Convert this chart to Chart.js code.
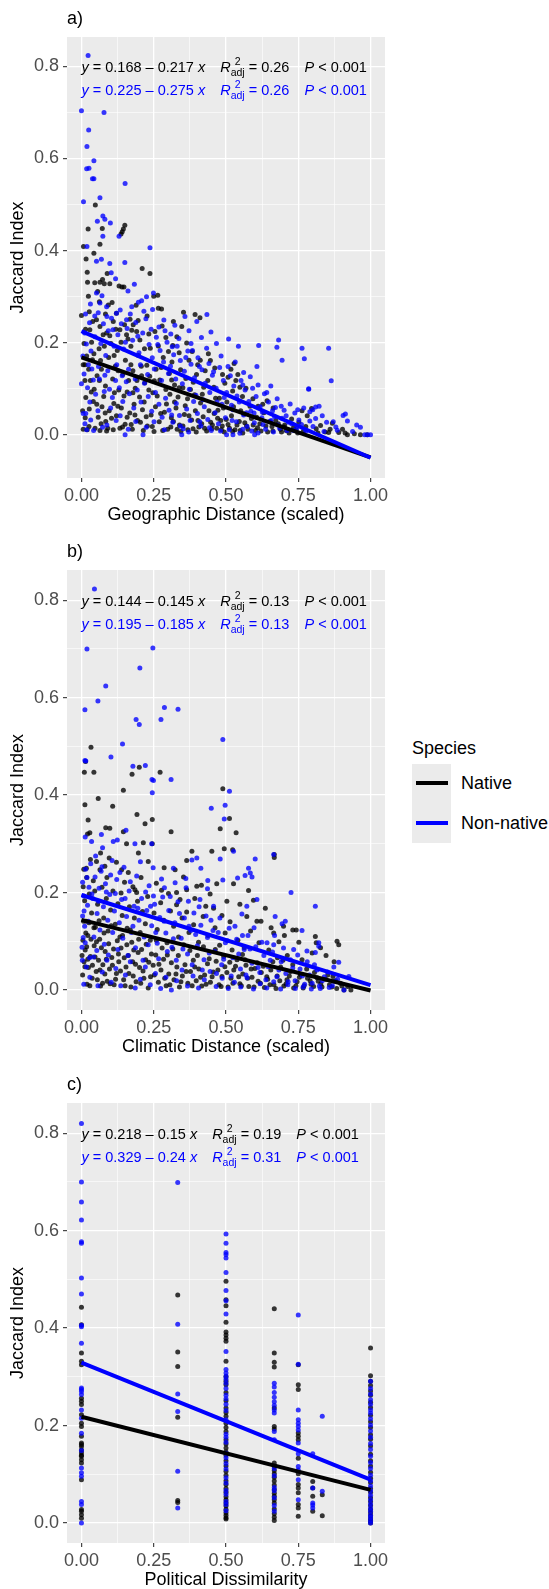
<!DOCTYPE html>
<html>
<head>
<meta charset="utf-8">
<script src="https://cdn.jsdelivr.net/npm/chart.js@4.4.0/dist/chart.umd.min.js"></script>
<style>
  body { margin: 0; background: #fff; width: 549px; height: 1589px; position: relative; overflow: hidden;
         font-family: "Liberation Sans", Arial, Helvetica, sans-serif; }
  .panel { position: absolute; left: 0; width: 400px; }
  .lg { position: absolute; font-size: 18px; line-height: 20px; color: #000; white-space: nowrap; }
</style>
</head>
<body>
<div class="panel" style="top:0;height:530px"><canvas id="chartA" width="400" height="530"></canvas></div>
<div class="panel" style="top:530px;height:532px"><canvas id="chartB" width="400" height="532"></canvas></div>
<div class="panel" style="top:1066px;height:529px"><canvas id="chartC" width="400" height="529"></canvas></div>

<div class="lg" style="left:412px;top:738px">Species</div>
<div style="position:absolute;left:412px;top:764px;width:39px;height:79px;background:#EBEBEB"></div>
<div style="position:absolute;left:416px;top:781px;width:32px;height:4px;background:#000"></div>
<div style="position:absolute;left:416px;top:821px;width:32px;height:4px;background:#0000FF"></div>
<div class="lg" style="left:461px;top:773px">Native</div>
<div class="lg" style="left:461px;top:813px">Non-native</div>

<script>
const FONT = '"Liberation Sans", Arial, Helvetica, sans-serif';

// axis breaks (majors at even index, minors in between)
const xTickVals = [0, 0.125, 0.25, 0.375, 0.5, 0.625, 0.75, 0.875, 1];
const yTickVals = [0, 0.1, 0.2, 0.3, 0.4, 0.5, 0.6, 0.7, 0.8];

// fitted lines: [native, non-native]
const geoIntercept = [0.168, 0.225];
const geoSlope = [-0.217, -0.275];
const geoR2 = ['0.26', '0.26'];
const climIntercept = [0.144, 0.195];
const climSlope = [-0.145, -0.185];
const climR2 = ['0.13', '0.13'];
const polIntercept = [0.218, 0.329];
const polSlope = [-0.15, -0.24];
const polR2 = ['0.19', '0.31'];

// a) geographic distance
const geoNative = [
[0.048,0.499],[0.023,0.447],[0.072,0.448],[0.15,0.455],[0.145,0.447],[0.141,0.441],[0.137,0.436],[0.007,0.409],[0.064,0.414],[0.043,0.394],
[0.016,0.382],[0.02,0.353],[0.021,0.331],[0.046,0.33],[0.064,0.331],[0.073,0.337],[0.079,0.328],[0.098,0.328],[0.089,0.35],[0.13,0.323],
[0.14,0.321],[0.147,0.321],[0.21,0.361],[0.237,0.35],[0.25,0.301],[0.264,0.303],[0.266,0.275],[0.277,0.273],[0.0,0.259],
[0.029,0.228],[0.052,0.25],[0.064,0.235],[0.075,0.217],[0.087,0.221],[0.11,0.246],[0.133,0.228],[0.156,0.217],[0.179,0.239],[0.191,0.224],
[0.202,0.206],[0.353,0.266],[0.318,0.246],[0.393,0.261],[0.41,0.254],[0.347,0.235],[0.33,0.213],[0.364,0.199],
[0.012,0.152],[0.018,0.171],[0.031,0.118],[0.038,0.163],[0.054,0.128],[0.061,0.187],[0.069,0.142],[0.083,0.106],[0.094,0.168],[0.102,0.198],
[0.108,0.121],[0.117,0.149],[0.124,0.183],[0.129,0.097],[0.143,0.131],[0.152,0.162],[0.163,0.118],[0.171,0.192],[0.178,0.139],[0.186,0.101],
[0.197,0.172],[0.208,0.128],[0.219,0.113],[0.226,0.151],[0.238,0.188],[0.247,0.091],[0.258,0.142],[0.271,0.119],[0.283,0.168],[0.292,0.098],
[0.304,0.133],[0.313,0.158],[0.322,0.108],[0.334,0.082],[0.343,0.141],[0.361,0.122],[0.377,0.098],[0.398,0.131],[0.418,0.088],[0.437,0.118],
[0.458,0.103],[0.477,0.079],[0.496,0.112],[0.517,0.142],[0.528,0.155],[0.541,0.131],[0.557,0.083],[0.569,0.101],[0.583,0.062],[0.461,0.145],
[0.439,0.176],[0.383,0.181],[0.292,0.211],[0.266,0.193],[0.411,0.162],[0.503,0.071],[0.472,0.053],
[0.015,0.081],[0.027,0.056],[0.041,0.072],[0.058,0.038],[0.071,0.061],[0.084,0.029],[0.096,0.052],[0.112,0.068],[0.121,0.041],[0.138,0.058],
[0.151,0.023],[0.167,0.047],[0.182,0.066],[0.194,0.031],[0.211,0.054],[0.228,0.019],[0.241,0.043],[0.256,0.061],[0.269,0.028],[0.287,0.049],
[0.298,0.012],[0.311,0.037],[0.327,0.058],[0.339,0.021],[0.356,0.044],[0.368,0.011],[0.381,0.032],[0.394,0.052],[0.406,0.017],[0.421,0.039],
[0.433,0.008],[0.447,0.027],[0.459,0.046],[0.468,0.014],[0.482,0.031],[0.494,0.006],[0.507,0.022],[0.519,0.041],[0.531,0.011],[0.546,0.029],
[0.558,0.004],[0.571,0.019],[0.588,0.035],[0.602,0.009],[0.617,0.024],[0.631,0.048],[0.644,0.006],[0.659,0.018],[0.672,0.031],[0.688,0.012],
[0.703,0.021],[0.718,0.004],[0.734,0.016],[0.752,0.027],[0.768,0.008],[0.781,0.041],[0.796,0.057],[0.812,0.013],[0.827,0.02],[0.843,0.006],
[0.855,0.005],[0.868,0.025],[0.89,0.005],[0.903,0.012],[0.92,0.0],[0.965,0.0],[0.988,0.0],
[0.006,0.012],[0.02,0.011],[0.064,0.009],[0.087,0.008],[0.11,0.011],[0.142,0.017],[0.176,0.012],[0.214,0.009],[0.251,0.007],[0.309,0.017],
[0.344,0.007],[0.397,0.006],[0.416,0.024],[0.451,0.013],[0.487,0.019],[0.523,0.007],[0.565,0.026],[0.609,0.015],[0.653,0.029],[0.692,0.006],
[0.7,0.017],[0.727,0.034],[0.742,0.011],[0.763,0.052],[0.523,0.095],[0.611,0.062],[0.642,0.074],[0.551,0.052],[0.367,0.078],[0.322,0.071],
[0.201,0.082],[0.178,0.091],[0.044,0.099],[0.062,0.118],[0.006,0.152],[0.009,0.198],[0.035,0.201],[0.098,0.215],[0.121,0.264],[0.168,0.251],
[0.189,0.281],[0.227,0.258],[0.062,0.289],[0.093,0.282],[0.024,0.301],
[0.004,0.052],[0.013,0.037],[0.026,0.018],[0.034,0.093],[0.047,0.014],[0.053,0.066],[0.068,0.024],[0.077,0.083],[0.082,0.047],[0.091,0.014],
[0.104,0.036],[0.114,0.091],[0.126,0.062],[0.133,0.014],[0.147,0.084],[0.158,0.038],[0.172,0.022],[0.185,0.043],[0.192,0.118],[0.204,0.027],
[0.217,0.071],[0.224,0.039],[0.233,0.097],[0.245,0.018],[0.262,0.084],[0.274,0.046],[0.281,0.009],[0.294,0.067],[0.306,0.088],[0.318,0.029],
[0.331,0.012],[0.338,0.102],[0.351,0.019],[0.359,0.063],[0.372,0.041],[0.386,0.013],[0.391,0.087],[0.403,0.031],[0.412,0.069],[0.426,0.014],
[0.441,0.052],[0.453,0.021],[0.464,0.079],[0.471,0.036],[0.484,0.011],[0.491,0.058],[0.501,0.033],[0.512,0.014],[0.526,0.061],[0.538,0.021],
[0.549,0.009],[0.562,0.045],[0.576,0.012],[0.594,0.021],[0.606,0.038],[0.621,0.008],[0.638,0.019],[0.662,0.008],[0.681,0.024],[0.708,0.009],
[0.748,0.004],[0.776,0.018],[0.818,0.004],[0.86,0.012],[0.912,0.004],[0.944,0.002],
[0.014,0.229],[0.027,0.267],[0.039,0.246],[0.056,0.311],[0.083,0.262],[0.106,0.287],[0.119,0.229],[0.137,0.201],[0.149,0.239],[0.161,0.208],
[0.174,0.227],[0.196,0.248],[0.218,0.187],[0.233,0.219],[0.254,0.224],[0.279,0.236],[0.301,0.181],[0.316,0.194],[0.338,0.178],[0.372,0.162],
[0.402,0.152],[0.428,0.139],[0.446,0.161],[0.488,0.131],[0.507,0.125],[0.534,0.118],[0.548,0.103],[0.593,0.078],[0.627,0.066],[0.663,0.058],
[0.012,0.118],[0.025,0.142],[0.043,0.176],[0.066,0.161],[0.079,0.192],[0.113,0.172],[0.127,0.139],[0.158,0.093],[0.171,0.152],[0.207,0.149],
[0.236,0.127],[0.252,0.117],[0.276,0.146],[0.312,0.119],[0.351,0.102],[0.387,0.114],[0.423,0.103]
];
const geoNonNative = [
[0.023,0.824],[0.0,0.704],[0.078,0.70],[0.025,0.662],[0.019,0.626],[0.043,0.595],[0.018,0.578],[0.026,0.579],[0.038,0.556],[0.043,0.556],
[0.151,0.546],[0.007,0.506],[0.064,0.515],[0.074,0.475],[0.081,0.468],[0.055,0.464],[0.1,0.46],[0.074,0.431],[0.13,0.431],[0.237,0.406],
[0.019,0.409],[0.15,0.374],[0.098,0.372],[0.052,0.377],[0.069,0.381],[0.052,0.308],[0.064,0.286],[0.087,0.278],[0.121,0.264],[0.156,0.25],
[0.249,0.308],[0.225,0.30],[0.197,0.288],[0.358,0.257],[0.399,0.246],[0.434,0.261],[0.509,0.208],[0.543,0.192],[0.613,0.194],[0.682,0.206],
[0.694,0.162],[0.676,0.19],[0.763,0.188],[0.771,0.165],[0.855,0.188],[0.864,0.117],[0.786,0.10],[0.655,0.106],[0.607,0.148],[0.561,0.135],
[0.0,0.111],[0.006,0.046],[0.015,0.046],[0.012,0.024],[0.029,0.071],
[0.786,0.099],[0.79,0.05],[0.80,0.054],[0.81,0.06],[0.79,0.03],[0.81,0.035],[0.905,0.042],[0.913,0.045],[0.92,0.03],[0.88,0.017],
[0.885,0.01],[0.965,0.016],[0.99,0.0],[1.0,0.0],[0.98,0.0],
[0.011,0.221],[0.017,0.197],[0.028,0.243],[0.033,0.182],[0.047,0.213],[0.058,0.265],[0.067,0.198],[0.076,0.241],[0.084,0.172],[0.093,0.226],
[0.104,0.253],[0.113,0.192],[0.126,0.217],[0.134,0.271],[0.146,0.186],[0.158,0.231],[0.169,0.262],[0.177,0.205],[0.188,0.244],[0.199,0.178],
[0.212,0.221],[0.223,0.252],[0.234,0.196],[0.245,0.167],[0.259,0.212],[0.272,0.183],[0.284,0.158],[0.296,0.201],[0.308,0.149],[0.319,0.174],
[0.331,0.192],[0.342,0.161],[0.356,0.138],[0.368,0.182],[0.379,0.153],[0.391,0.124],[0.403,0.167],[0.417,0.141],[0.428,0.112],[0.441,0.155],
[0.453,0.129],[0.466,0.101],[0.478,0.146],[0.491,0.118],[0.502,0.092],[0.515,0.128],[0.527,0.106],[0.538,0.084],[0.552,0.118],[0.566,0.097],
[0.579,0.072],[0.592,0.101],[0.604,0.083],[0.618,0.061],[0.633,0.089],[0.647,0.071],[0.661,0.052],[0.677,0.078],[0.691,0.062],[0.708,0.041],
[0.722,0.067],[0.738,0.047],[0.752,0.032],[0.769,0.058],[0.822,0.062],[0.833,0.041],[0.848,0.027],
[0.009,0.132],[0.021,0.102],[0.036,0.143],[0.049,0.088],[0.062,0.121],[0.079,0.094],[0.091,0.139],[0.107,0.081],[0.118,0.118],[0.131,0.102],
[0.143,0.072],[0.155,0.115],[0.166,0.089],[0.181,0.058],[0.193,0.097],[0.206,0.071],[0.218,0.112],[0.231,0.083],[0.243,0.051],[0.256,0.092],
[0.268,0.066],[0.279,0.038],[0.291,0.079],[0.303,0.053],[0.316,0.027],[0.328,0.068],[0.339,0.042],[0.352,0.013],[0.364,0.056],[0.376,0.031],
[0.388,0.072],[0.401,0.046],[0.413,0.019],[0.425,0.061],[0.437,0.033],[0.449,0.009],[0.462,0.048],[0.474,0.024],[0.486,0.066],[0.498,0.037],
[0.511,0.011],[0.524,0.054],[0.536,0.028],[0.548,0.003],[0.561,0.043],[0.573,0.018],[0.586,0.051],[0.598,0.026],[0.611,0.004],[0.624,0.037],
[0.637,0.012],[0.651,0.029],[0.664,0.006],[0.679,0.021],[0.694,0.036],[0.711,0.009],[0.727,0.024],[0.744,0.013],[0.151,0.0],[0.213,0.0],
[0.347,0.0],[0.502,0.0],[0.524,0.0],[0.599,0.0],[0.12,0.031],[0.073,0.016],[0.042,0.009],
[0.103,0.352],[0.118,0.339],[0.161,0.312],[0.183,0.327],[0.208,0.291],[0.246,0.272],[0.285,0.249],[0.323,0.238],[0.372,0.226],[0.415,0.211],
[0.448,0.223],[0.467,0.198],[0.379,0.198],[0.268,0.234],[0.309,0.219],
[0.005,0.171],[0.014,0.262],[0.024,0.152],[0.031,0.284],[0.041,0.119],[0.046,0.258],[0.059,0.148],[0.071,0.302],[0.081,0.129],[0.088,0.257],
[0.097,0.099],[0.109,0.228],[0.122,0.152],[0.138,0.241],[0.141,0.128],[0.152,0.201],[0.163,0.142],[0.174,0.278],[0.186,0.121],[0.195,0.214],
[0.204,0.152],[0.216,0.268],[0.229,0.131],[0.241,0.229],[0.252,0.143],[0.264,0.196],[0.277,0.118],[0.289,0.226],[0.301,0.133],[0.314,0.191],
[0.326,0.121],[0.337,0.209],[0.349,0.111],[0.361,0.168],[0.373,0.099],[0.384,0.183],[0.396,0.086],[0.408,0.148],[0.421,0.076],[0.433,0.188],
[0.444,0.092],[0.457,0.137],[0.469,0.071],[0.483,0.171],[0.494,0.081],[0.507,0.148],[0.519,0.064],[0.532,0.158],[0.546,0.071],[0.558,0.108],
[0.571,0.048],[0.584,0.126],[0.597,0.047],[0.611,0.108],[0.626,0.049],[0.641,0.092],[0.656,0.031],[0.671,0.059],[0.686,0.014],[0.701,0.053],
[0.716,0.027],[0.733,0.009],[0.748,0.054],[0.761,0.022],[0.776,0.008],[0.801,0.018],[0.839,0.007],[0.871,0.028],[0.938,0.007],[0.952,0.021],
[0.018,0.011],[0.032,0.032],[0.057,0.052],[0.088,0.021],[0.101,0.058],[0.134,0.041],[0.162,0.012],[0.188,0.029],[0.224,0.016],[0.251,0.028],
[0.287,0.011],[0.312,0.043],[0.342,0.019],[0.371,0.006],[0.409,0.028],[0.443,0.015],[0.481,0.008],[0.521,0.031],[0.558,0.012],[0.589,0.008],
[0.628,0.022],[0.668,0.039]
];

// b) climatic distance
const climNative = [
[0.033,0.498],[0.014,0.469],[0.010,0.447],[0.043,0.447],[0.175,0.443],[0.2,0.457],[0.272,0.447],[0.489,0.413],[0.145,0.41],[0.058,0.393],
[0.012,0.38],[0.108,0.377],[0.192,0.36],[0.023,0.349],[0.021,0.32],[0.029,0.323],[0.084,0.333],[0.098,0.332],[0.145,0.325],[0.22,0.341],
[0.245,0.35],[0.31,0.325],[0.48,0.331],[0.512,0.352],[0.535,0.323],[0.245,0.30],[0.214,0.302],[0.156,0.30],[0.382,0.285],[0.451,0.285],
[0.494,0.29],[0.523,0.288],[0.667,0.278],[0.667,0.272],[0.364,0.266],[0.324,0.247],[0.399,0.213],[0.526,0.218],[0.364,0.206],[0.008,0.248],
[0.017,0.25],[0.052,0.264],[0.064,0.247],[0.081,0.254],[0.139,0.247],[0.185,0.206],[0.191,0.2],[0.277,0.205],[0.329,0.2],[0.329,0.175],
[0.364,0.16],[0.43,0.172],[0.457,0.168],[0.486,0.153],[0.514,0.14],[0.572,0.151],[0.595,0.184],[0.607,0.141],[0.636,0.168],[0.665,0.117],
[0.699,0.131],[0.731,0.123],[0.743,0.123],[0.809,0.11],[0.812,0.097],[0.884,0.10],[0.89,0.093],[0.798,0.076],
[0.006,0.212],[0.011,0.183],[0.016,0.141],[0.022,0.112],[0.027,0.197],[0.035,0.158],[0.041,0.224],[0.048,0.129],[0.056,0.176],[0.063,0.104],
[0.071,0.211],[0.077,0.148],[0.086,0.188],[0.092,0.121],[0.101,0.164],[0.109,0.203],[0.117,0.135],[0.126,0.177],[0.133,0.109],[0.141,0.153],
[0.149,0.221],[0.158,0.127],[0.166,0.171],[0.174,0.098],[0.183,0.148],[0.194,0.182],[0.203,0.118],[0.211,0.161],[0.221,0.136],[0.229,0.192],
[0.238,0.102],[0.251,0.158],[0.262,0.124],[0.274,0.179],[0.285,0.143],[0.296,0.097],[0.308,0.162],[0.319,0.131],[0.336,0.109],[0.348,0.148],
[0.372,0.118],[0.388,0.134],[0.405,0.098],[0.421,0.151],[0.438,0.112],[0.462,0.128],[0.478,0.092],[0.497,0.117],[0.541,0.102],[0.563,0.087],
[0.585,0.121],[0.614,0.097],[0.648,0.082],[0.683,0.099],
[0.004,0.031],[0.009,0.058],[0.013,0.082],[0.019,0.012],[0.024,0.046],[0.031,0.069],[0.037,0.024],[0.044,0.091],[0.051,0.038],[0.059,0.061],
[0.066,0.008],[0.074,0.052],[0.082,0.079],[0.089,0.018],[0.097,0.043],[0.105,0.067],[0.113,0.011],[0.121,0.034],[0.129,0.058],[0.137,0.086],
[0.146,0.021],[0.154,0.047],[0.162,0.071],[0.171,0.006],[0.179,0.029],[0.187,0.053],[0.196,0.077],[0.205,0.014],[0.213,0.039],[0.222,0.062],
[0.231,0.004],[0.239,0.027],[0.248,0.051],[0.257,0.072],[0.266,0.016],[0.275,0.041],[0.284,0.063],[0.293,0.009],[0.302,0.033],[0.311,0.056],
[0.32,0.021],[0.33,0.047],[0.339,0.006],[0.349,0.029],[0.358,0.052],[0.368,0.014],[0.377,0.038],[0.387,0.061],[0.397,0.019],[0.406,0.043],
[0.416,0.008],[0.426,0.031],[0.436,0.054],[0.446,0.016],[0.456,0.037],[0.466,0.059],[0.476,0.011],[0.486,0.028],[0.496,0.048],[0.507,0.006],
[0.517,0.024],[0.527,0.041],[0.538,0.062],[0.548,0.013],[0.558,0.033],[0.569,0.051],[0.579,0.007],[0.59,0.026],[0.6,0.044],[0.611,0.018],
[0.622,0.036],[0.633,0.005],[0.644,0.022],[0.655,0.041],[0.666,0.011],[0.677,0.029],[0.689,0.047],[0.7,0.008],[0.711,0.021],[0.723,0.038],
[0.734,0.004],[0.746,0.017],[0.758,0.032],[0.77,0.009],[0.782,0.024],[0.794,0.012],[0.806,0.036],[0.819,0.018],[0.832,0.006],[0.845,0.022],
[0.858,0.011],[0.87,0.028],[0.883,0.003],[0.896,0.014],[0.908,0.0],[0.921,0.007],[0.932,0.0],[0.827,0.087],[0.763,0.062],[0.712,0.071],
[0.678,0.066],[0.557,0.073],[0.521,0.082],
[0.002,0.071],[0.005,0.102],[0.007,0.141],[0.012,0.048],[0.015,0.117],[0.018,0.089],[0.022,0.063],[0.026,0.138],[0.029,0.009],[0.033,0.104],
[0.038,0.051],[0.043,0.128],[0.047,0.068],[0.052,0.099],[0.055,0.021],[0.061,0.142],[0.064,0.041],[0.069,0.087],[0.073,0.014],[0.078,0.117],
[0.081,0.033],[0.086,0.063],[0.094,0.095],[0.099,0.013],[0.103,0.132],[0.107,0.051],[0.111,0.084],[0.118,0.022],[0.124,0.101],[0.128,0.074],
[0.135,0.039],[0.142,0.112],[0.148,0.066],[0.151,0.009],[0.157,0.093],[0.164,0.034],[0.169,0.123],[0.177,0.058],[0.181,0.082],[0.189,0.017],
[0.198,0.104],[0.201,0.046],[0.208,0.083],[0.216,0.024],[0.224,0.094],[0.233,0.057],[0.242,0.074],[0.252,0.031],[0.259,0.102],[0.268,0.053],
[0.279,0.086],[0.288,0.024],[0.297,0.072],[0.306,0.011],[0.316,0.084],[0.327,0.033],[0.335,0.071],[0.344,0.017],[0.354,0.093],[0.362,0.038],
[0.375,0.081],[0.383,0.009],[0.392,0.047],[0.401,0.071],[0.412,0.026],[0.422,0.089],[0.431,0.012],[0.442,0.064],[0.452,0.027],[0.463,0.083],
[0.472,0.041],[0.483,0.007],[0.492,0.069],[0.503,0.036],[0.513,0.057],[0.524,0.014],[0.533,0.049],[0.544,0.027],[0.553,0.009],[0.566,0.062],
[0.575,0.024],[0.587,0.043],[0.597,0.006],[0.608,0.056],[0.619,0.014],[0.629,0.049],[0.641,0.027],[0.652,0.011],[0.662,0.058],[0.673,0.003],
[0.686,0.019],[0.697,0.061],[0.708,0.013],[0.719,0.029],[0.731,0.052],[0.742,0.009],[0.754,0.026],[0.767,0.004],[0.779,0.043],[0.791,0.019],
[0.803,0.007],[0.815,0.025],[0.828,0.013],[0.852,0.031],[0.866,0.006],[0.879,0.019],[0.901,0.008],
[0.018,0.231],[0.031,0.268],[0.046,0.203],[0.066,0.281],[0.088,0.231],[0.096,0.271],[0.121,0.262],[0.137,0.199],[0.162,0.241],[0.178,0.212],
[0.197,0.281],[0.206,0.231],[0.231,0.264],[0.259,0.219],[0.286,0.251],[0.301,0.198],[0.341,0.186],[0.353,0.232],[0.392,0.188],[0.415,0.215],
[0.445,0.197],[0.468,0.218],[0.503,0.182],[0.548,0.176],[0.578,0.204],[0.621,0.141],[0.656,0.128],[0.702,0.112],[0.752,0.098],[0.846,0.071],
[0.874,0.058]
];
const climNonNative = [
[0.045,0.823],[0.019,0.70],[0.247,0.702],[0.202,0.661],[0.084,0.624],[0.057,0.593],[0.012,0.575],[0.287,0.58],[0.334,0.576],[0.189,0.555],
[0.2,0.545],[0.275,0.555],[0.489,0.514],[0.142,0.505],[0.012,0.471],[0.015,0.47],[0.102,0.478],[0.178,0.459],[0.221,0.461],[0.244,0.432],
[0.31,0.432],[0.249,0.43],[0.245,0.405],[0.512,0.408],[0.497,0.379],[0.449,0.373],[0.494,0.351],[0.154,0.328],[0.013,0.314],[0.035,0.305],
[0.069,0.319],[0.11,0.305],[0.124,0.308],[0.185,0.30],[0.243,0.30],[0.073,0.292],[0.318,0.25],[0.413,0.25],[0.382,0.267],[0.399,0.271],
[0.48,0.269],[0.526,0.285],[0.578,0.25],[0.601,0.269],[0.665,0.278],[0.437,0.225],[0.489,0.226],[0.54,0.23],[0.566,0.235],[0.584,0.24],
[0.59,0.232],[0.436,0.208],[0.249,0.193],[0.287,0.21],[0.362,0.21],[0.324,0.22],[0.37,0.182],[0.41,0.186],[0.457,0.172],[0.555,0.156],
[0.572,0.172],[0.607,0.186],[0.725,0.20],[0.809,0.172],[0.67,0.151],[0.694,0.136],[0.705,0.141],[0.763,0.122],[0.642,0.097],[0.665,0.093],
[0.734,0.083],[0.78,0.08],[0.809,0.077],[0.821,0.09],[0.821,0.097],[0.873,0.047],[0.89,0.057],[0.925,0.028],[0.908,0.0],
[0.004,0.221],[0.008,0.193],[0.014,0.248],[0.021,0.174],[0.026,0.211],[0.032,0.259],[0.039,0.188],[0.047,0.232],[0.054,0.157],[0.061,0.209],
[0.068,0.244],[0.076,0.171],[0.083,0.218],[0.091,0.143],[0.098,0.196],[0.106,0.266],[0.114,0.162],[0.122,0.227],[0.131,0.138],[0.139,0.186],
[0.147,0.252],[0.156,0.151],[0.165,0.203],[0.173,0.118],[0.182,0.172],[0.191,0.234],[0.199,0.143],[0.208,0.188],[0.217,0.109],[0.226,0.163],
[0.234,0.214],[0.243,0.132],[0.253,0.176],[0.262,0.096],[0.271,0.149],[0.281,0.191],[0.292,0.117],[0.302,0.163],[0.313,0.088],[0.323,0.138],
[0.334,0.181],[0.345,0.106],[0.356,0.148],[0.367,0.074],[0.378,0.122],[0.389,0.158],[0.401,0.091],[0.413,0.133],[0.424,0.062],[0.436,0.108],
[0.448,0.143],[0.461,0.079],[0.473,0.118],[0.485,0.052],[0.498,0.097],[0.511,0.127],[0.524,0.066],[0.537,0.104],[0.55,0.043],[0.563,0.083],
[0.576,0.112],[0.59,0.055],[0.603,0.089],[0.617,0.036],[0.631,0.071],[0.646,0.048],[0.661,0.078],[0.676,0.027],[0.691,0.058],[0.707,0.034],
[0.723,0.062],[0.739,0.019],[0.756,0.043],[0.772,0.012],[0.789,0.031],[0.806,0.052],[0.823,0.008],[0.84,0.027],[0.857,0.005],[0.875,0.018],
[0.008,0.012],[0.017,0.047],[0.029,0.026],[0.042,0.068],[0.057,0.009],[0.072,0.037],[0.088,0.061],[0.103,0.016],[0.119,0.044],[0.136,0.009],
[0.152,0.031],[0.169,0.058],[0.186,0.004],[0.204,0.022],[0.221,0.047],[0.238,0.011],[0.256,0.034],[0.274,0.003],[0.292,0.026],[0.311,0.0],
[0.329,0.019],[0.348,0.041],[0.367,0.008],[0.386,0.029],[0.405,0.004],[0.425,0.021],[0.445,0.038],[0.466,0.007],[0.487,0.024],[0.508,0.003],
[0.529,0.016],[0.551,0.006],[0.573,0.025],[0.595,0.002],[0.618,0.013],[0.641,0.004],[0.665,0.017],[0.689,0.002],[0.714,0.011],[0.74,0.003],
[0.767,0.006],[0.795,0.002],[0.826,0.003],[0.002,0.088],[0.006,0.108],[0.011,0.131],[0.004,0.152],
[0.003,0.061],[0.009,0.162],[0.013,0.097],[0.019,0.231],[0.024,0.141],[0.028,0.066],[0.036,0.197],[0.043,0.109],[0.049,0.275],[0.053,0.081],
[0.059,0.182],[0.064,0.123],[0.071,0.253],[0.079,0.094],[0.086,0.201],[0.093,0.072],[0.101,0.236],[0.108,0.118],[0.117,0.198],[0.126,0.083],
[0.133,0.241],[0.143,0.106],[0.151,0.188],[0.161,0.071],[0.169,0.222],[0.178,0.131],[0.187,0.087],[0.195,0.168],[0.204,0.263],[0.213,0.061],
[0.222,0.201],[0.231,0.093],[0.239,0.172],[0.248,0.251],[0.257,0.118],[0.267,0.064],[0.277,0.228],[0.286,0.141],[0.297,0.079],[0.307,0.192],
[0.318,0.105],[0.328,0.061],[0.339,0.157],[0.351,0.084],[0.361,0.229],[0.372,0.131],[0.383,0.052],[0.395,0.114],[0.407,0.171],[0.418,0.041],
[0.431,0.152],[0.442,0.076],[0.455,0.122],[0.467,0.034],[0.479,0.148],[0.492,0.063],[0.505,0.101],[0.518,0.029],[0.531,0.131],[0.544,0.074],
[0.557,0.112],[0.569,0.031],[0.583,0.084],[0.597,0.128],[0.611,0.046],[0.624,0.098],[0.638,0.021],[0.653,0.061],[0.668,0.112],[0.683,0.041],
[0.699,0.086],[0.715,0.017],[0.731,0.045],[0.748,0.072],[0.764,0.029],[0.781,0.058],[0.798,0.014],[0.815,0.041],[0.833,0.019],[0.851,0.037],
[0.868,0.009],[0.886,0.022]
];

// c) political dissimilarity
const polNative = [
[0,0.443],[0,0.407],[0,0.349],[0,0.332],[0,0.325],[0,0.256],[0,0.25],[0,0.243],[0,0.222],[0,0.198],[0,0.178],[0,0.164],[0,0.157],
[0,0.15],[0,0.144],[0,0.137],[0,0.13],[0,0.123],[0,0.089],[0,0.024],[0,0.017],[0,0.01],[0,0.205],[0,0.161],[0,0.139],[0,0.028],
[0.333,0.468],[0.333,0.351],[0.333,0.321],[0.333,0.217],[0.333,0.046],[0.333,0.042],
[0.5,0.496],[0.5,0.458],[0.5,0.446],[0.5,0.412],[0.5,0.392],[0.5,0.379],[0.5,0.386],[0.5,0.373],[0.5,0.332],[0.5,0.3],[0.5,0.291],
[0.5,0.284],[0.5,0.268],[0.5,0.251],[0.5,0.236],[0.5,0.227],[0.5,0.219],[0.5,0.205],[0.5,0.196],[0.5,0.188],[0.5,0.171],[0.5,0.162],
[0.5,0.154],[0.5,0.146],[0.5,0.139],[0.5,0.128],[0.5,0.117],[0.5,0.106],[0.5,0.098],[0.5,0.087],[0.5,0.079],[0.5,0.071],[0.5,0.063],
[0.5,0.054],[0.5,0.048],[0.5,0.041],[0.5,0.035],[0.5,0.028],[0.5,0.021],[0.5,0.016],[0.5,0.011],[0.5,0.008],
[0.667,0.44],[0.667,0.349],[0.667,0.33],[0.667,0.32],[0.667,0.236],[0.667,0.198],[0.667,0.193],[0.667,0.123],[0.667,0.116],[0.667,0.108],
[0.667,0.101],[0.667,0.094],[0.667,0.086],[0.667,0.078],[0.667,0.069],[0.667,0.061],[0.667,0.055],[0.667,0.048],[0.667,0.041],[0.667,0.029],
[0.667,0.019],[0.667,0.012],[0.667,0.005],
[0.75,0.325],[0.75,0.284],[0.75,0.274],[0.75,0.185],[0.75,0.178],[0.75,0.171],[0.75,0.133],[0.75,0.079],[0.75,0.072],[0.75,0.062],
[0.75,0.038],[0.75,0.031],[0.75,0.014],[0.75,0.101],
[0.8,0.085],[0.8,0.072],[0.8,0.055],[0.8,0.024],
[0.833,0.058],[0.833,0.015],
[1,0.359],[1,0.302],[1,0.291],[1,0.282],[1,0.271],[1,0.262],[1,0.248],[1,0.237],[1,0.221],[1,0.208],[1,0.196],[1,0.181],[1,0.172],
[1,0.158],[1,0.141],[1,0.128],[1,0.117],[1,0.104],[1,0.092],[1,0.083],[1,0.071],[1,0.063],[1,0.052],[1,0.044],[1,0.036],[1,0.028],
[1,0.021],[1,0.015],[1,0.009],[1,0.004],[1,0.0]
];
const polNonNative = [
[0,0.82],[0,0.70],[0,0.659],[0,0.622],[0,0.577],[0,0.574],[0,0.503],[0,0.47],[0,0.403],[0,0.406],[0,0.369],[0,0.277],[0,0.274],
[0,0.27],[0,0.232],[0,0.215],[0,0.103],[0,0.096],[0,0.044],[0,0.038],[0,0.0],[0,0.264],[0,0.184],[0,0.149],[0,0.113],
[0.333,0.699],[0.333,0.408],[0.333,0.265],[0.333,0.229],[0.333,0.106],[0.333,0.031],
[0.5,0.593],[0.5,0.574],[0.5,0.555],[0.5,0.551],[0.5,0.544],[0.5,0.514],[0.5,0.477],[0.5,0.456],[0.5,0.429],[0.5,0.352],[0.5,0.315],
[0.5,0.308],[0.5,0.301],[0.5,0.295],[0.5,0.287],[0.5,0.276],[0.5,0.262],[0.5,0.255],[0.5,0.244],[0.5,0.231],[0.5,0.212],[0.5,0.182],
[0.5,0.176],[0.5,0.166],[0.5,0.143],[0.5,0.134],[0.5,0.122],[0.5,0.111],[0.5,0.093],[0.5,0.082],[0.5,0.067],[0.5,0.059],[0.5,0.044],
[0.5,0.038],[0.5,0.025],
[0.667,0.287],[0.667,0.279],[0.667,0.268],[0.667,0.258],[0.667,0.249],[0.667,0.241],[0.667,0.232],[0.667,0.226],[0.667,0.188],[0.667,0.171],
[0.667,0.112],[0.667,0.097],[0.667,0.073],[0.667,0.066],[0.667,0.052],[0.667,0.036],[0.667,0.024],
[0.75,0.427],[0.75,0.326],[0.75,0.232],[0.75,0.212],[0.75,0.205],[0.75,0.198],[0.75,0.191],[0.75,0.164],[0.75,0.116],[0.75,0.109],
[0.75,0.089],[0.75,0.048],[0.75,0.142],
[0.8,0.142],[0.8,0.072],[0.8,0.037],[0.8,0.031],[0.8,0.041],
[0.833,0.219],[0.833,0.065],
[1,0.291],[1,0.276],[1,0.265],[1,0.253],[1,0.244],[1,0.232],[1,0.226],[1,0.214],[1,0.201],[1,0.189],[1,0.176],[1,0.163],[1,0.151],
[1,0.137],[1,0.124],[1,0.112],[1,0.098],[1,0.087],[1,0.076],[1,0.066],[1,0.057],[1,0.048],[1,0.039],[1,0.031],[1,0.024],[1,0.016],
[1,0.011],[1,0.005],[1,0.0]
];

Chart.defaults.font.family = FONT;

// grey panel, panel tag and the fit equations
const panelDeco = {
  id: 'panelDeco',
  beforeDraw(chart, args, opts) {
    const { ctx, chartArea: a } = chart;
    ctx.save();
    ctx.fillStyle = '#EBEBEB';
    ctx.fillRect(a.left, a.top, a.right - a.left, a.bottom - a.top);
    ctx.fillStyle = '#000';
    ctx.font = '18px ' + FONT;
    ctx.textBaseline = 'middle';
    ctx.textAlign = 'left';
    ctx.fillText(opts.tag, a.left, a.top - 18);
    ctx.restore();
  },
  afterDatasetsDraw(chart, args, opts) {
    const { ctx, scales } = chart;
    const x0 = scales.x.getPixelForValue(0);
    const base = scales.y.getPixelForValue(0.8) + 6;
    ctx.save();
    ctx.textBaseline = 'alphabetic';
    ctx.textAlign = 'left';
    opts.rows.forEach((row, i) => {
      const y = base + i * 22.5;
      ctx.fillStyle = row.color;
      let x = x0;
      const put = (t, size, italic, dx, dy) => {
        ctx.font = (italic ? 'italic ' : '') + size + 'px ' + FONT;
        ctx.fillText(t, x + (dx || 0), y + (dy || 0));
        return ctx.measureText(t).width;
      };
      x += put('y', 14.5, true);
      x += put(' = ' + row.eq + ' ', 14.5, false);
      x += put('x', 14.5, true);
      x += 15;
      x += put('R', 14.5, true);
      ctx.font = '10.5px ' + FONT;
      const wSub = ctx.measureText('adj').width;
      const wSup = ctx.measureText('2').width;
      put('2', 10.5, false, (wSub - wSup) / 2, -7);
      put('adj', 10.5, false, 0, 4);
      x += wSub;
      x += put(' = ' + row.r2, 14.5, false);
      x += 15;
      x += put('P', 14.5, true);
      put(' < 0.001', 14.5, false);
    });
    ctx.restore();
  }
};

function eqRows(b, m, r2) {
  return [0, 1].map(k => ({
    color: k === 0 ? '#000000' : '#0000FF',
    eq: b[k] + ' \u2013 ' + Math.abs(m[k]),
    r2: r2[k]
  }));
}

function makePanel(id, tag, xTitle, nat, non, b, m, r2, yMin, yMax, padTop) {
  const grid = {
    color: '#FFFFFF',
    lineWidth: c => (c.index % 2 === 0 ? 1.3 : 0.6),
    drawTicks: true,
    tickLength: 4,
    tickWidth: 1.1,
    tickColor: c => (c.index % 2 === 0 ? '#333333' : 'rgba(0,0,0,0)')
  };
  return new Chart(document.getElementById(id), {
    type: 'scatter',
    data: {
      datasets: [
        { label: 'Native', data: nat.map(p => ({ x: p[0], y: p[1] })),
          backgroundColor: 'rgba(0,0,0,0.78)', borderWidth: 0, pointRadius: 2.5, order: 4 },
        { label: 'Non-native', data: non.map(p => ({ x: p[0], y: p[1] })),
          backgroundColor: 'rgba(0,0,255,0.78)', borderWidth: 0, pointRadius: 2.5, order: 3 },
        { type: 'line', label: 'Native fit', data: [{ x: 0, y: b[0] }, { x: 1, y: b[0] + m[0] }],
          borderColor: '#000000', borderWidth: 4, pointRadius: 0, order: 2 },
        { type: 'line', label: 'Non-native fit', data: [{ x: 0, y: b[1] }, { x: 1, y: b[1] + m[1] }],
          borderColor: '#0000FF', borderWidth: 4, pointRadius: 0, order: 1 }
      ]
    },
    options: {
      responsive: false,
      animation: false,
      events: [],
      layout: { padding: { top: padTop, right: 15, left: 0, bottom: 0 } },
      scales: {
        x: {
          type: 'linear', min: -0.05, max: 1.05,
          afterBuildTicks: s => { s.ticks = xTickVals.map(v => ({ value: v })); },
          afterFit: s => { s.height = 52; },
          grid: grid,
          border: { display: false },
          ticks: { autoSkip: false, maxRotation: 0, padding: 3, color: '#4D4D4D', font: { size: 18 },
                   callback: (v, i) => (i % 2 === 0 ? Number(v).toFixed(2) : '') },
          title: { display: true, text: xTitle, color: '#000', font: { size: 18 }, padding: { top: 0, bottom: 4 } }
        },
        y: {
          type: 'linear', min: yMin, max: yMax,
          afterBuildTicks: s => { s.ticks = yTickVals.map(v => ({ value: v })); },
          afterFit: s => { s.width = 67; },
          grid: grid,
          border: { display: false },
          ticks: { autoSkip: false, padding: 4, color: '#4D4D4D', font: { size: 18 },
                   callback: (v, i) => (i % 2 === 0 ? Number(v).toFixed(1) : '') },
          title: { display: true, text: 'Jaccard Index', color: '#000', font: { size: 18 }, padding: { top: 7, bottom: 0 } }
        }
      },
      plugins: {
        legend: { display: false },
        tooltip: { enabled: false },
        panelDeco: { tag: tag, rows: eqRows(b, m, r2) }
      }
    },
    plugins: [panelDeco]
  });
}

makePanel('chartA', 'a)', 'Geographic Distance (scaled)', geoNative, geoNonNative,
  geoIntercept, geoSlope, geoR2, -0.094, 0.864, 37);
makePanel('chartB', 'b)', 'Climatic Distance (scaled)', climNative, climNonNative,
  climIntercept, climSlope, climR2, -0.041, 0.862, 40);
makePanel('chartC', 'c)', 'Political Dissimilarity', polNative, polNonNative,
  polIntercept, polSlope, polR2, -0.041, 0.862, 37);
</script>
</body>
</html>
